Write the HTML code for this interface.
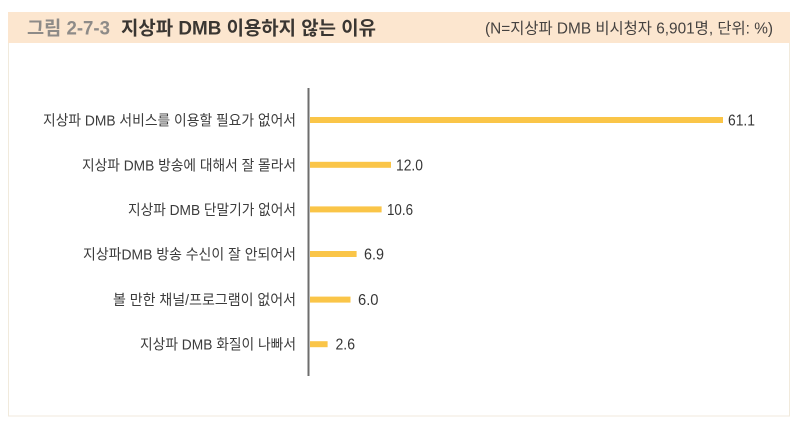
<!DOCTYPE html>
<html>
<head>
<meta charset="utf-8">
<style>
html,body{margin:0;padding:0;background:#fff;}
svg{display:block;}
</style>
</head>
<body>
<svg width="800" height="429" viewBox="0 0 800 429" xmlns="http://www.w3.org/2000/svg">
  <rect x="0" y="0" width="800" height="429" fill="#ffffff"/>
  <!-- outer box -->
  <rect x="8.5" y="42.5" width="781" height="373.5" fill="#ffffff" stroke="#f1eadc" stroke-width="1"/>
  <!-- title bar -->
  <rect x="8" y="12" width="782" height="31" fill="#fce6cf"/>
  <text x="27" y="34.5" font-family="Liberation Sans, 'Noto Sans CJK KR', sans-serif" font-size="19" font-weight="bold" fill="#8e8b88" textLength="83" lengthAdjust="spacingAndGlyphs">그림 2-7-3</text>
  <text x="121" y="34.5" font-family="Liberation Sans, 'Noto Sans CJK KR', sans-serif" font-size="19" font-weight="bold" fill="#3a3632" textLength="255" lengthAdjust="spacingAndGlyphs">지상파 DMB 이용하지 않는 이유</text>
  <text x="485" y="33.5" font-family="Liberation Sans, 'Noto Sans CJK KR', sans-serif" font-size="15.5" fill="#454240" textLength="288" lengthAdjust="spacingAndGlyphs">(N=지상파 DMB 비시청자 6,901명, 단위: %)</text>

  <!-- axis -->
  <rect x="307.5" y="88" width="2" height="288" fill="#6d6d6d"/>

  <g font-family="Liberation Sans, 'Noto Sans CJK KR', sans-serif" font-size="14.5" fill="#3c3c3c">
    <text x="43" y="125.5" textLength="253" lengthAdjust="spacingAndGlyphs">지상파 DMB 서비스를 이용할 필요가 없어서</text>
    <text x="82" y="170.3" textLength="214" lengthAdjust="spacingAndGlyphs">지상파 DMB 방송에 대해서 잘 몰라서</text>
    <text x="128" y="215" textLength="168" lengthAdjust="spacingAndGlyphs">지상파 DMB 단말기가 없어서</text>
    <text x="83" y="259.5" textLength="213" lengthAdjust="spacingAndGlyphs">지상파DMB  방송 수신이 잘 안되어서</text>
    <text x="113" y="305" textLength="183" lengthAdjust="spacingAndGlyphs">볼 만한 채널/프로그램이 없어서</text>
    <text x="140" y="349.7" textLength="156" lengthAdjust="spacingAndGlyphs">지상파 DMB 화질이 나빠서</text>
  </g>

  <g fill="#fac548">
    <rect x="310" y="117" width="413" height="6"/>
    <rect x="310" y="161.8" width="81" height="6"/>
    <rect x="310" y="206.4" width="71.6" height="6"/>
    <rect x="310" y="251" width="46.6" height="6"/>
    <rect x="310" y="296.6" width="40.5" height="6"/>
    <rect x="310" y="341.2" width="17.6" height="6"/>
  </g>

  <g font-family="Liberation Sans, 'Noto Sans CJK KR', sans-serif" font-size="15.5" fill="#363636">
    <text x="728" y="125.5" textLength="27" lengthAdjust="spacingAndGlyphs">61.1</text>
    <text x="396" y="170.3" textLength="27" lengthAdjust="spacingAndGlyphs">12.0</text>
    <text x="387" y="214.9" textLength="26" lengthAdjust="spacingAndGlyphs">10.6</text>
    <text x="364" y="259.5" textLength="20" lengthAdjust="spacingAndGlyphs">6.9</text>
    <text x="358" y="305.1" textLength="20.5" lengthAdjust="spacingAndGlyphs">6.0</text>
    <text x="335.5" y="349.7" textLength="19.5" lengthAdjust="spacingAndGlyphs">2.6</text>
  </g>
</svg>
</body>
</html>
